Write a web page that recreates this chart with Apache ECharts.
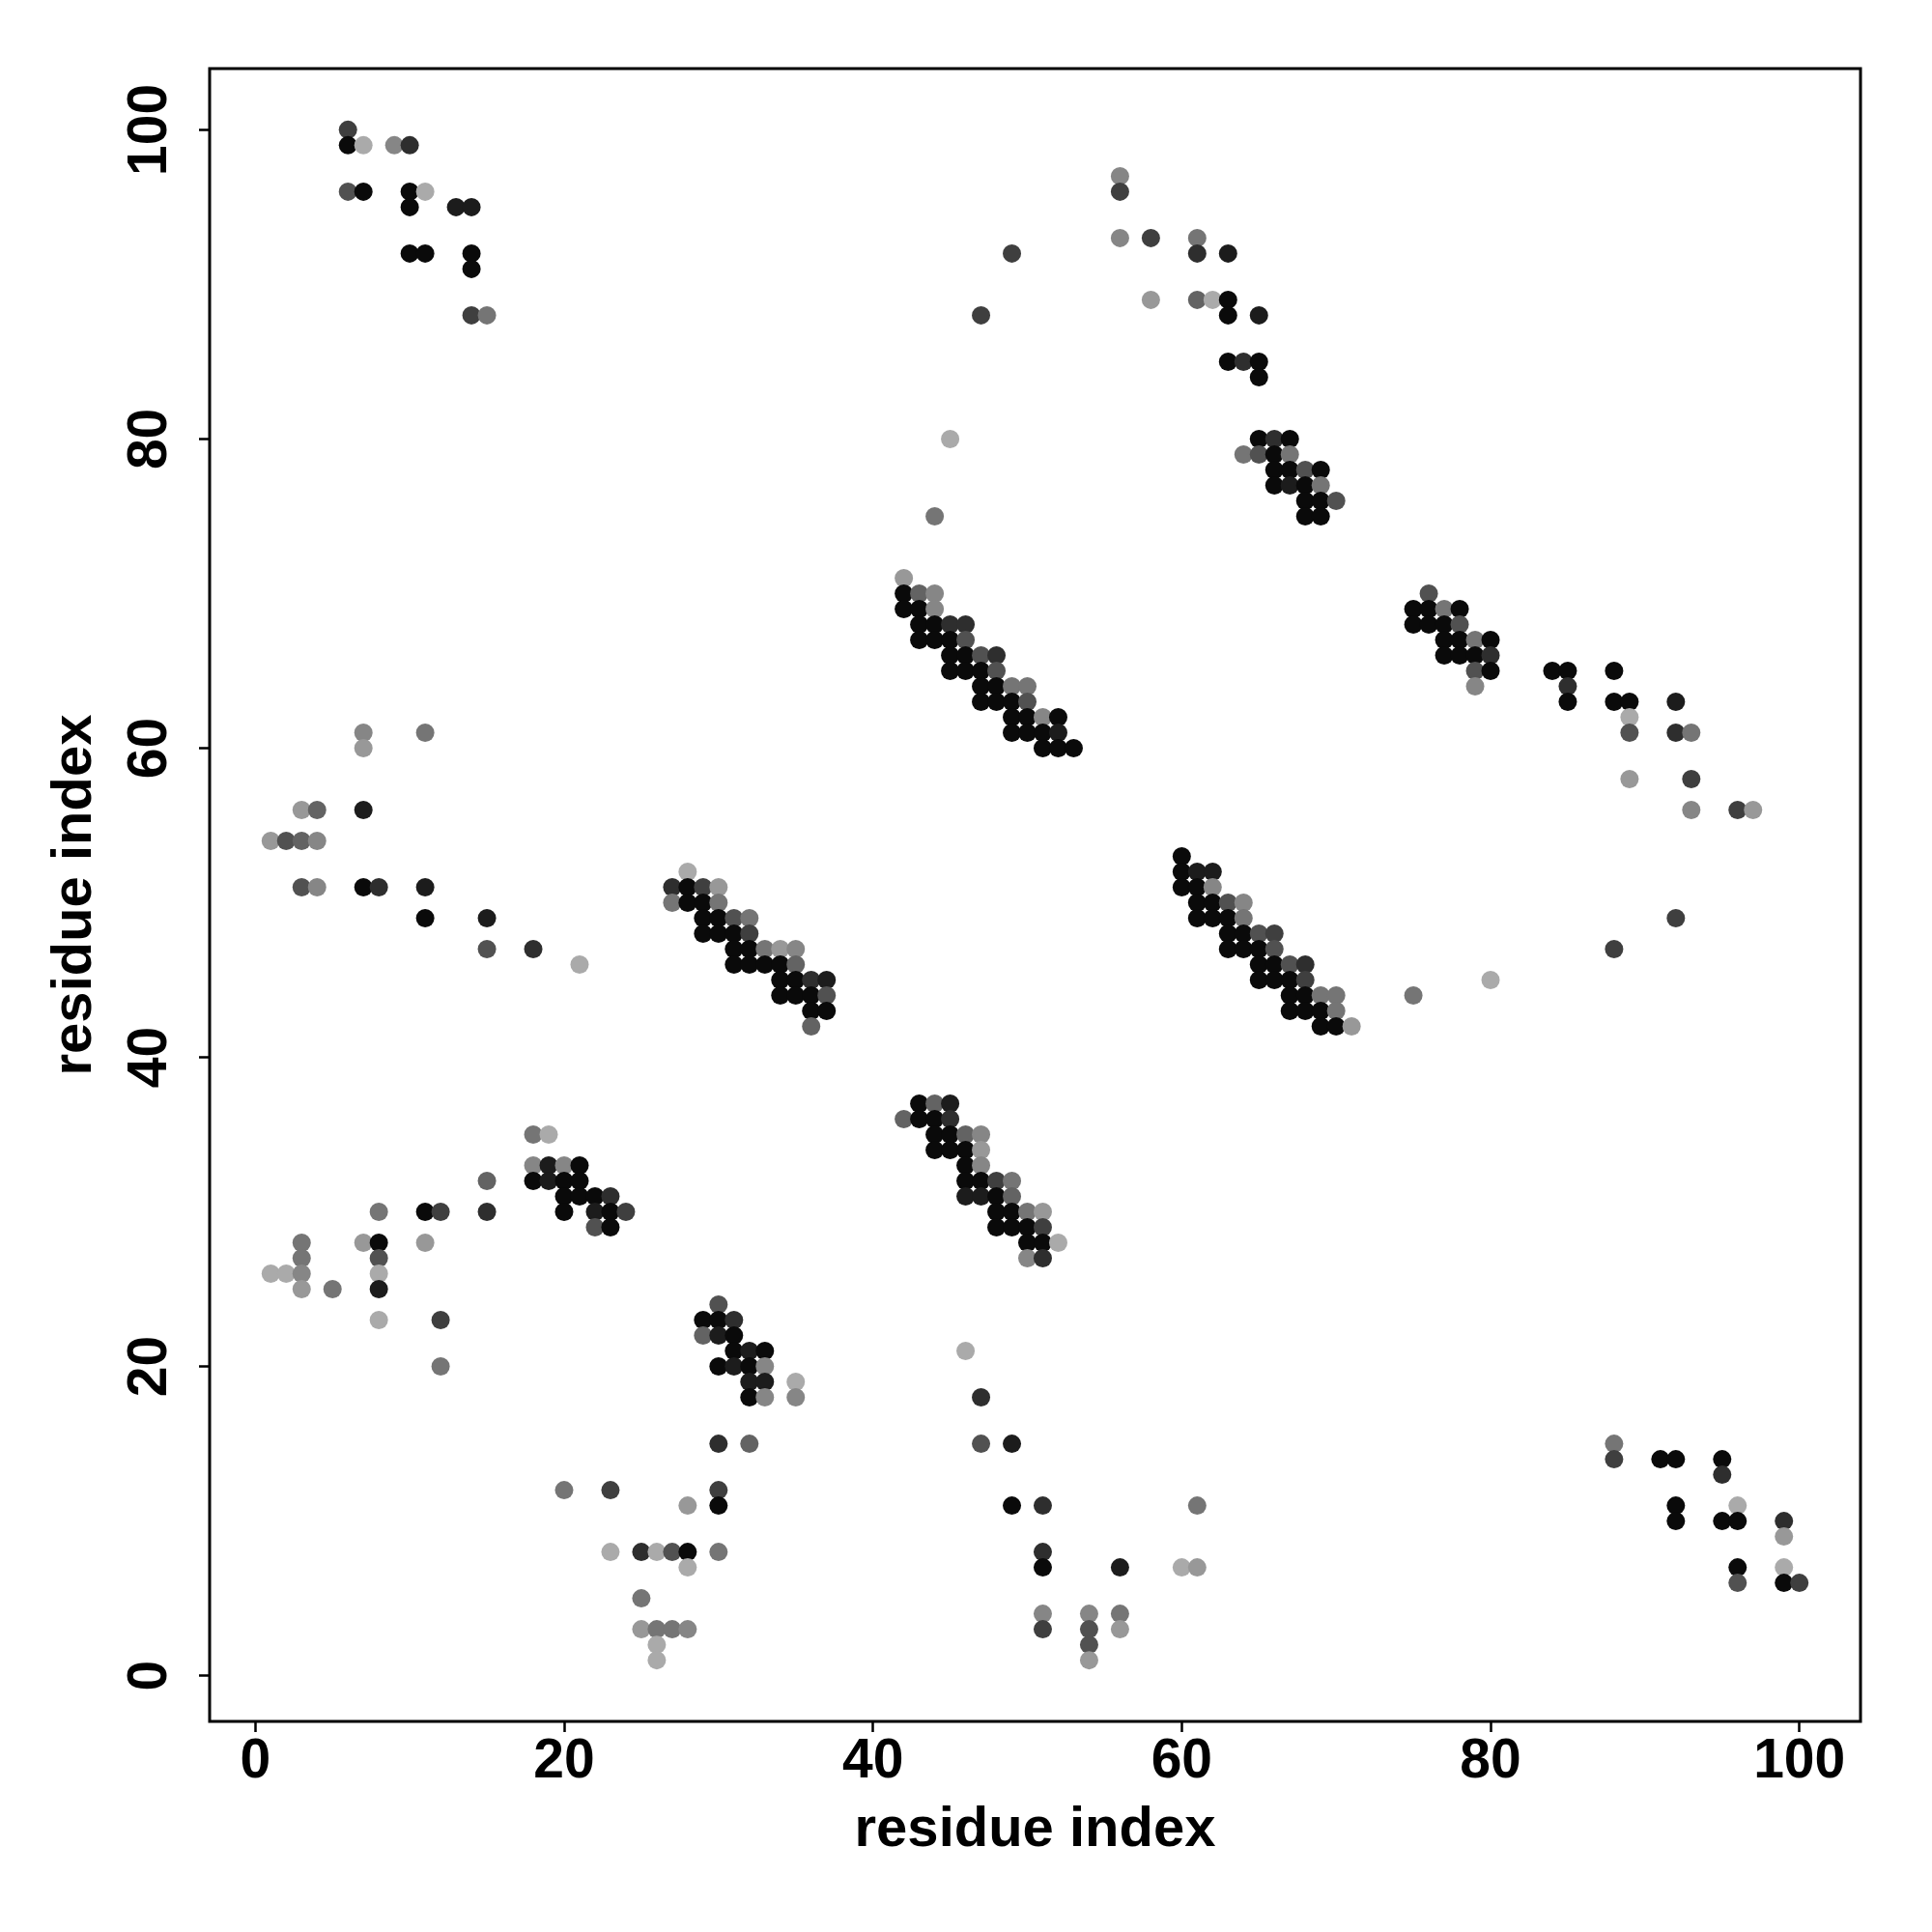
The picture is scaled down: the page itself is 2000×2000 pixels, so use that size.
<!DOCTYPE html>
<html><head><meta charset="utf-8">
<script src="https://cdn.jsdelivr.net/npm/echarts@6/dist/echarts.min.js"></script>
<style>html,body{margin:0;padding:0;background:#fff}#c{width:2000px;height:2000px}</style>
</head><body><div id="c"></div>
<script>
// Each contact: [residue i, residue j, strength 1 (faint) .. 10 (strong)]
const blockTopLeft = [
 [6,100,7],[6,99,10],[7,99,1],[9,99,3],[10,99,8],
 [6,96,6],[7,96,10],[10,96,10],[11,96,1],[10,95,10],[13,95,9],[14,95,9],
 [10,92,10],[11,92,10],[14,92,10],[14,91,10],[14,88,7],[15,88,4]
];
const blockLeftMid = [
 [7,61,3],[11,61,4],[7,60,2],[3,56,2],[4,56,5],[7,56,9],
 [1,54,2],[2,54,6],[3,54,5],[4,54,3],
 [3,51,6],[4,51,3],[7,51,10],[8,51,8],[11,51,9],
 [11,49,10],[15,49,9],[15,47,6],[18,47,8],[21,46,1]
];
const blockStrandA = [
 [28,52,1],
 [27,51,8],[28,51,10],[29,51,7],[30,51,2],
 [27,50,4],[28,50,10],[29,50,10],[30,50,4],
 [29,49,10],[30,49,10],[31,49,6],[32,49,4],
 [29,48,10],[30,48,10],[31,48,10],[32,48,7],
 [31,47,10],[32,47,10],[33,47,4],[34,47,2],[35,47,3],
 [31,46,10],[32,46,10],[33,46,10],[34,46,10],[35,46,5],
 [34,45,10],[35,45,10],[36,45,8],[37,45,9],
 [34,44,10],[35,44,10],[36,44,10],[37,44,6],
 [36,43,10],[37,43,10],
 [36,42,5]
];
const blockLeftLow = [
 [18,35,4],[19,35,1],
 [18,33,3],[19,33,9],[20,33,3],[21,33,10],
 [15,32,5],[18,32,10],[19,32,9],[20,32,10],[21,32,10],
 [20,31,10],[21,31,10],[22,31,10],[23,31,8],
 [8,30,4],[11,30,10],[12,30,7],[15,30,8],[20,30,10],[22,30,9],[23,30,10],[24,30,7],
 [22,29,6],[23,29,10],
 [3,28,4],[7,28,2],[8,28,10],[11,28,2],
 [3,27,4],[8,27,6],
 [1,26,1],[2,26,1],[3,26,3],[8,26,1],
 [3,25,2],[5,25,4],[8,25,9],
 [8,23,1],[12,23,7],
 [12,20,4]
];
const blockStrandB = [
 [30,24,6],
 [29,23,10],[30,23,10],[31,23,8],
 [29,22,5],[30,22,9],[31,22,10],
 [31,21,10],[32,21,9],[33,21,10],
 [30,20,10],[31,20,9],[32,20,10],[33,20,3],
 [32,19,9],[33,19,9],[35,19,1],
 [32,18,10],[33,18,3],[35,18,3]
];
const blockBottom = [
 [30,15,8],[32,15,5],
 [20,12,4],[23,12,7],[30,12,7],
 [28,11,2],[30,11,10],
 [23,8,1],[25,8,8],[26,8,1],[27,8,6],[28,8,10],[30,8,4],
 [28,7,1],[25,5,4],
 [25,3,2],[26,3,4],[27,3,4],[28,3,3],
 [26,2,1],[26,1,1],
 [46,21,1],[47,18,8],[47,15,6],[49,15,9],
 [49,11,10],[51,11,8],[51,8,8],[51,7,10],[51,4,3],[51,3,7],
 [54,4,3],[54,3,6],[54,2,6],[54,1,2],
 [56,7,9],[56,4,4],[56,3,2],
 [60,7,1],[61,7,2],[61,11,4]
];
const blockStrandC = [
 [43,37,10],[44,37,5],[45,37,9],
 [42,36,5],[43,36,10],[44,36,10],[45,36,8],
 [44,35,10],[45,35,10],[46,35,5],[47,35,3],
 [44,34,10],[45,34,10],[46,34,10],[47,34,2],
 [46,33,10],[47,33,3],
 [46,32,10],[47,32,10],[48,32,7],[49,32,4],
 [46,31,9],[47,31,9],[48,31,10],[49,31,5],
 [48,30,10],[49,30,10],[50,30,4],[51,30,2],
 [48,29,10],[49,29,10],[50,29,10],[51,29,7],
 [50,28,10],[51,28,10],[52,28,1],
 [50,27,3],[51,27,8]
];
const blockStrandD = [
 [42,71,2],
 [42,70,10],[43,70,5],[44,70,3],
 [42,69,10],[43,69,10],[44,69,3],
 [43,68,10],[44,68,10],[45,68,8],[46,68,8],
 [43,67,10],[44,67,10],[45,67,10],[46,67,6],
 [45,66,10],[46,66,10],[47,66,6],[48,66,8],
 [45,65,10],[46,65,10],[47,65,10],[48,65,6],
 [47,64,10],[48,64,10],[49,64,4],[50,64,4],
 [47,63,10],[48,63,10],[49,63,10],[50,63,6],
 [49,62,10],[50,62,10],[51,62,3],[52,62,10],
 [49,61,10],[50,61,10],[51,61,10],[52,61,9],
 [51,60,10],[52,60,10],[53,60,10],
 [44,75,4],[45,80,1],[47,88,7],[49,92,7]
];
const blockTopRight = [
 [56,97,3],[56,96,7],[56,93,3],[58,93,7],[61,93,4],[61,92,8],[63,92,9],
 [58,89,2],[61,89,5],[62,89,1],[63,89,10],[63,88,10],[65,88,9],
 [63,85,10],[64,85,8],[65,85,10],[65,84,10],
 [65,80,10],[66,80,8],[67,80,10],
 [64,79,4],[65,79,6],[66,79,10],[67,79,4],
 [66,78,10],[67,78,10],[68,78,6],[69,78,10],
 [66,77,10],[67,77,9],[68,77,10],[69,77,4],
 [68,76,10],[69,76,10],[70,76,6],
 [68,75,10],[69,75,10]
];
const blockRightMid = [
 [76,70,6],
 [75,69,10],[76,69,10],[77,69,4],[78,69,10],
 [75,68,10],[76,68,10],[77,68,10],[78,68,6],
 [77,67,10],[78,67,10],[79,67,4],[80,67,10],
 [77,66,10],[78,66,10],[79,66,10],[80,66,8],
 [79,65,6],[80,65,10],[79,64,3],
 [84,65,10],[85,65,10],[88,65,10],[85,64,8],
 [85,63,10],[88,63,10],[89,63,10],[92,63,9],
 [89,62,1],[89,61,6],[92,61,8],[93,61,4],
 [89,58,2],[93,58,7],
 [93,56,3],[96,56,7],[97,56,2],
 [92,49,7],[88,47,7],[80,45,1],[75,44,4]
];
const blockStrandE = [
 [60,53,10],
 [60,52,10],[61,52,9],[62,52,9],
 [60,51,10],[61,51,10],[62,51,3],
 [61,50,10],[62,50,10],[63,50,6],[64,50,3],
 [61,49,10],[62,49,10],[63,49,10],[64,49,4],
 [63,48,10],[64,48,10],[65,48,6],[66,48,7],
 [63,47,10],[64,47,10],[65,47,10],[66,47,6],
 [65,46,10],[66,46,10],[67,46,6],[68,46,8],
 [65,45,10],[66,45,10],[67,45,10],[68,45,7],
 [67,44,10],[68,44,10],[69,44,4],[70,44,4],
 [67,43,10],[68,43,10],[69,43,10],[70,43,4],
 [69,42,10],[70,42,10],[71,42,2]
];
const blockBottomRight = [
 [88,15,4],[88,14,7],[91,14,10],[92,14,10],[95,14,10],[95,13,8],
 [92,11,10],[96,11,1],[92,10,10],[95,10,10],[96,10,10],[99,10,8],[99,9,2],
 [96,7,10],[99,7,1],[96,6,6],[99,6,10],[100,6,7]
];
const tickValues = [0, 20, 40, 60, 80, 100];
const xTitle = 'residue index';
const yTitle = 'residue index';

const contacts = [].concat(blockTopLeft, blockLeftMid, blockStrandA, blockLeftLow,
  blockStrandB, blockBottom, blockStrandC, blockStrandD, blockTopRight,
  blockRightMid, blockStrandE, blockBottomRight);

const font = {fontFamily: 'Liberation Sans', fontWeight: 'bold', color: '#000'};
const chart = echarts.init(document.getElementById('c'));
chart.setOption({
  animation: false,
  backgroundColor: '#fff',
  grid: {left: 217, top: 71, width: 1709, height: 1711, show: true,
         borderColor: '#000', borderWidth: 3, backgroundColor: 'transparent'},
  xAxis: {
    type: 'value', min: -2.96, max: 103.96,
    axisLine: {show: false, onZero: false}, splitLine: {show: false},
    axisTick: {show: true, customValues: tickValues, length: 11, lineStyle: {color: '#000', width: 2.5}},
    axisLabel: Object.assign({customValues: tickValues, fontSize: 57, margin: 14}, font),
    name: xTitle, nameLocation: 'middle', nameGap: 84,
    nameTextStyle: Object.assign({fontSize: 58}, font)
  },
  yAxis: {
    type: 'value', min: -2.96, max: 103.96,
    axisLine: {show: false, onZero: false}, splitLine: {show: false},
    axisTick: {show: true, customValues: tickValues, length: 11, lineStyle: {color: '#000', width: 2.5}},
    axisLabel: Object.assign({customValues: tickValues, fontSize: 57, margin: 32, rotate: 90}, font),
    name: yTitle, nameLocation: 'middle', nameGap: 110,
    nameTextStyle: Object.assign({fontSize: 58}, font)
  },
  visualMap: {show: false, type: 'continuous', dimension: 2, min: 1, max: 10,
              inRange: {color: ['#aaaaaa', '#0a0a0a']}},
  series: [{type: 'scatter', data: contacts, symbolSize: 19, itemStyle: {opacity: 1}}]
});
</script>
</body></html>
